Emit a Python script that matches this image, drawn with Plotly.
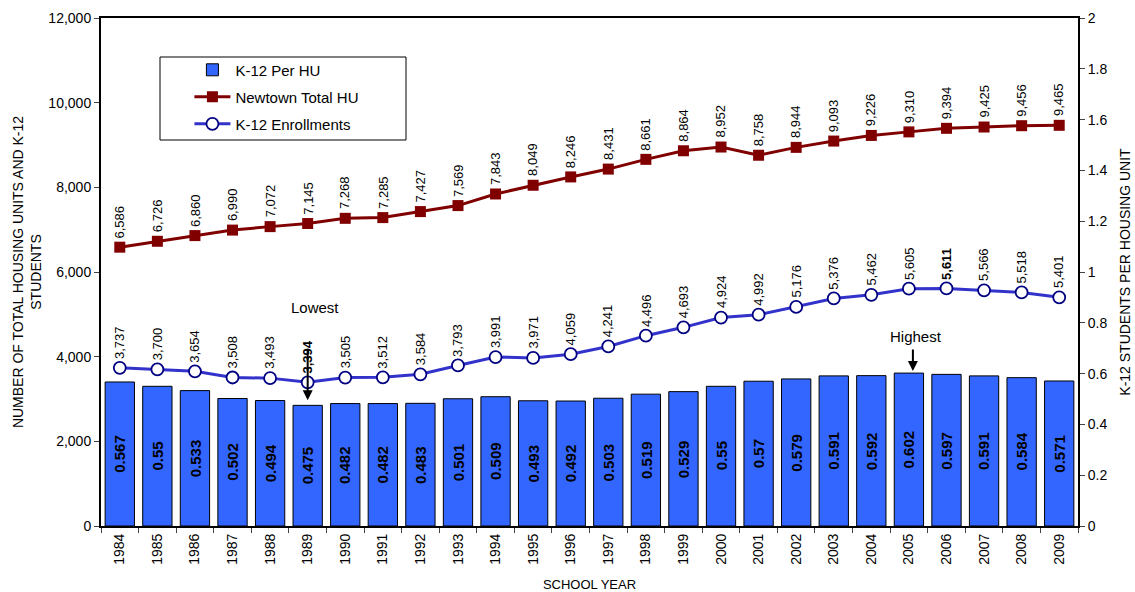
import plotly.graph_objects as go

# School years on the category axis
years = [str(y) for y in range(1984, 2010)]

# K-12 students per housing unit (right axis, bars)
per_hu = [0.567, 0.55, 0.533, 0.502, 0.494, 0.475, 0.482, 0.482, 0.483, 0.501,
          0.509, 0.493, 0.492, 0.503, 0.519, 0.529, 0.55, 0.57, 0.579, 0.591,
          0.592, 0.602, 0.597, 0.591, 0.584, 0.571]

# Newtown total housing units (left axis)
total_hu = [6586, 6726, 6860, 6990, 7072, 7145, 7268, 7285, 7427, 7569,
            7843, 8049, 8246, 8431, 8661, 8864, 8952, 8758, 8944, 9093,
            9226, 9310, 9394, 9425, 9456, 9465]

# K-12 enrollments (left axis)
enroll = [3737, 3700, 3654, 3508, 3493, 3394, 3505, 3512, 3584, 3793,
          3991, 3971, 4059, 4241, 4496, 4693, 4924, 4992, 5176, 5376,
          5462, 5605, 5611, 5566, 5518, 5401]

low_year, high_year = "1989", "2005"
bold_enroll_years = {"1989", "2006"}

FONT = "Liberation Sans, Arial, sans-serif"

fig = go.Figure()

fig.add_trace(go.Bar(
    x=years, y=per_hu, name="K-12 Per HU", yaxis="y",
    marker=dict(color="#3366FF", line=dict(color="black", width=1)),
    legendgroup="a",
))

fig.add_trace(go.Scatter(
    x=years, y=total_hu, name="Newtown Total HU", yaxis="y2",
    mode="lines+markers",
    line=dict(color="#800000", width=3),
    marker=dict(symbol="square", size=11, color="#800000"),
    legendgroup="b",
))

fig.add_trace(go.Scatter(
    x=years, y=enroll, name="K-12 Enrollments", yaxis="y2",
    mode="lines+markers",
    line=dict(color="#3333CC", width=3),
    marker=dict(symbol="circle", size=12, color="white",
                line=dict(color="#000080", width=1.8)),
    legendgroup="c",
))

# Annotations are placed by category index on the category axis
annotations = []
# bar values, centred inside each bar
for i, v in enumerate(per_hu):
    annotations.append(dict(
        x=i, y=v / 2, xref="x", yref="y", text=f"<b>{v:g}</b>",
        showarrow=False, textangle=-90, xanchor="center", yanchor="middle",
        font=dict(family=FONT, size=15, color="black"),
    ))
for i, v in enumerate(total_hu):
    annotations.append(dict(
        x=i, y=v, xref="x", yref="y2", text=f"{v:,}", showarrow=False,
        textangle=-90, xanchor="center", yanchor="bottom", yshift=7,
        font=dict(family=FONT, size=13, color="black"),
    ))
for i, v in enumerate(enroll):
    txt = f"<b>{v:,}</b>" if years[i] in bold_enroll_years else f"{v:,}"
    annotations.append(dict(
        x=i, y=v, xref="x", yref="y2", text=txt, showarrow=False,
        textangle=-90, xanchor="center", yanchor="bottom", yshift=7,
        font=dict(family=FONT, size=13, color="black"),
    ))

# Lowest / Highest callouts pointing at the bars
lo_i = years.index(low_year)
hi_i = years.index(high_year)
annotations += [
    dict(x=lo_i, y=per_hu[lo_i], xref="x", yref="y", text="", showarrow=True,
         arrowhead=2, arrowsize=1, arrowwidth=2, arrowcolor="black",
         ax=0, ay=-58, standoff=5),
    dict(x=lo_i, y=per_hu[lo_i], xref="x", yref="y", text="Lowest",
         showarrow=False, xshift=7, yshift=98,
         font=dict(family=FONT, size=15, color="black")),
    dict(x=hi_i, y=per_hu[hi_i], xref="x", yref="y", text="", showarrow=True,
         arrowhead=2, arrowsize=1, arrowwidth=2, arrowcolor="black",
         ax=0, ay=-25, standoff=2, xshift=4),
    dict(x=hi_i, y=per_hu[hi_i], xref="x", yref="y", text="Highest",
         showarrow=False, xshift=7, yshift=37,
         font=dict(family=FONT, size=15, color="black")),
]

fig.update_layout(
    width=1135, height=592,
    margin=dict(l=101, r=57, t=18, b=66, autoexpand=False),
    paper_bgcolor="white", plot_bgcolor="white",
    font=dict(family=FONT, size=14, color="black"),
    bargap=0.22,
    showlegend=True,
    legend=dict(
        x=0.0905, y=0.93, xanchor="left", yanchor="top",
        bgcolor="rgba(0,0,0,0)", borderwidth=0,
        font=dict(family=FONT, size=15),
        traceorder="grouped", tracegroupgap=4.5, itemwidth=36,
    ),
    xaxis=dict(
        type="category", range=[-0.5, len(years) - 0.5],
        tickson="boundaries", ticks="outside", ticklen=5,
        tickangle=-90, showline=True, linecolor="black", linewidth=2,
        mirror=True, showgrid=False,
        tickfont=dict(size=14),
        title=dict(text="SCHOOL YEAR", font=dict(size=13), standoff=18),
    ),
    yaxis=dict(
        side="right", range=[0, 2], dtick=0.2, ticks="outside", ticklen=5,
        showline=True, linecolor="black", linewidth=2, showgrid=False,
        zeroline=False, tickfont=dict(size=14),
        title=dict(text="K-12 STUDENTS PER HOUSING UNIT",
                   font=dict(size=14), standoff=14),
    ),
    yaxis2=dict(
        overlaying="y", side="left", range=[0, 12000], dtick=2000,
        tickformat=",", ticks="outside", ticklen=5,
        showline=True, linecolor="black", linewidth=2, showgrid=False,
        zeroline=False, tickfont=dict(size=14),
        title=dict(text="NUMBER OF TOTAL HOUSING UNITS AND K-12<br>STUDENTS",
                   font=dict(size=14), standoff=3),
    ),
    annotations=annotations,
    shapes=[dict(type="rect", xref="paper", yref="paper",
                 x0=(160 - 101) / 977, x1=(406 - 101) / 977,
                 y0=(526 - 140) / 508, y1=(526 - 57) / 508,
                 line=dict(color="black", width=1), fillcolor="rgba(0,0,0,0)")],
)

fig.write_html("out.html")
